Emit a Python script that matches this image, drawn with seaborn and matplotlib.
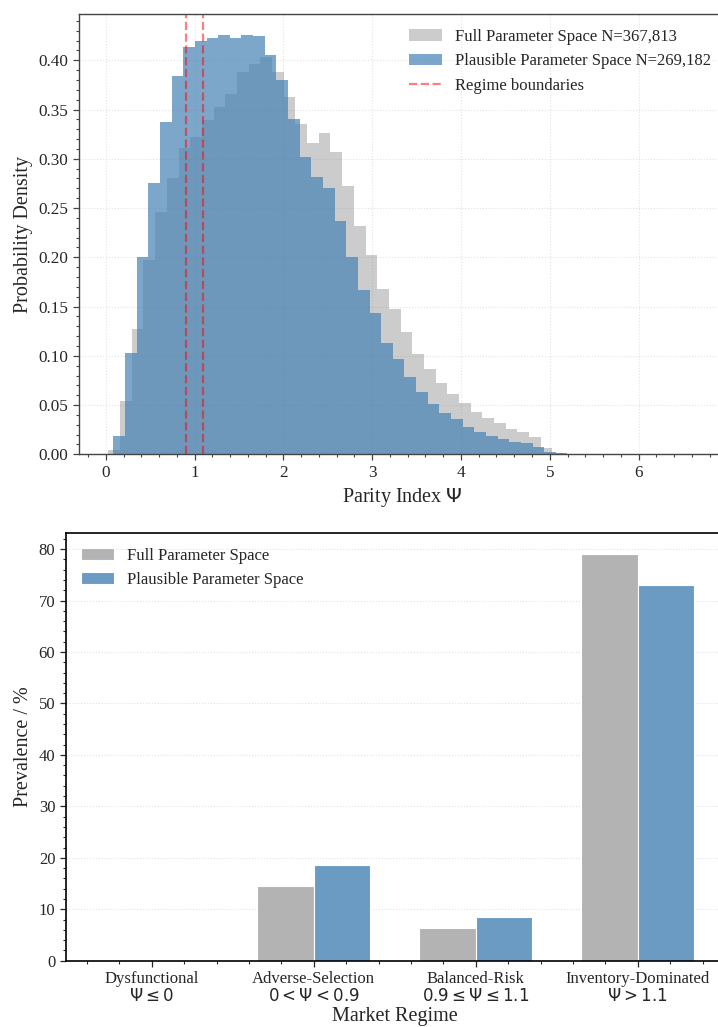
"""
Parity index distribution and regime prevalence (full vs plausible parameter space)
"""

import numpy as np
import pandas as pd
import matplotlib
matplotlib.use("Agg")
import matplotlib.pyplot as plt
from matplotlib.ticker import AutoMinorLocator, MultipleLocator
import seaborn as sns

# Histogram densities (one value per bin)
full_start = 0.030
full_width = 0.1316
full_density = [0.0044, 0.054, 0.127, 0.197, 0.246, 0.280, 0.311, 0.322, 0.339, 0.353,
                0.366, 0.3886, 0.396, 0.403, 0.388, 0.363, 0.3355, 0.3165, 0.326, 0.3073,
                0.2728, 0.2322, 0.2021, 0.1682, 0.1473, 0.1245, 0.1016, 0.0863, 0.0727, 0.0616,
                0.0518, 0.0427, 0.0372, 0.0315, 0.0257, 0.0223, 0.0172, 0.0067, 0.0016]

plaus_start = 0.086
plaus_width = 0.1311
plaus_density = [0.0186, 0.103, 0.200, 0.275, 0.337, 0.384, 0.413, 0.420, 0.4225, 0.4259,
                 0.4228, 0.4255, 0.425, 0.4055, 0.380, 0.3405, 0.3023, 0.2813, 0.2701, 0.2369,
                 0.2007, 0.1669, 0.1432, 0.1134, 0.0968, 0.0788, 0.0636, 0.0508, 0.0416, 0.0362,
                 0.0277, 0.0223, 0.0189, 0.0152, 0.0122, 0.0112, 0.0077, 0.0020, 0.0010]

regime_bounds = [0.9, 1.1]

# Regime prevalence (%)
regimes = ["Dysfunctional\n$\\Psi \\leq 0$",
           "Adverse-Selection\n$0 < \\Psi < 0.9$",
           "Balanced-Risk\n$0.9 \\leq \\Psi \\leq 1.1$",
           "Inventory-Dominated\n$\\Psi > 1.1$"]
full_prev = [0.0, 14.5, 6.4, 79.1]
plaus_prev = [0.0, 18.6, 8.4, 73.1]

full_label = "Full Parameter Space N=367,813"
plaus_label = "Plausible Parameter Space N=269,182"


def hist_frame(start, width, density):
    edges = start + width * np.arange(len(density) + 1)
    centers = edges[:-1] + width / 2
    return pd.DataFrame({"psi": centers, "density": density}), list(edges)


sns.set_style("ticks")
plt.rcParams["font.family"] = ["Liberation Serif", "DejaVu Serif"]
plt.rcParams["mathtext.fontset"] = "dejavusans"

fig = plt.figure(figsize=(7.18, 10.27), dpi=100)
ax1 = fig.add_axes([0.1096, 0.5576, 0.9022, 0.4288])
ax2 = fig.add_axes([0.0915, 0.06456, 0.9174, 0.4168])

# --- top: histogram ---
df_full, full_edges = hist_frame(full_start, full_width, full_density)
df_plaus, plaus_edges = hist_frame(plaus_start, plaus_width, plaus_density)

sns.histplot(data=df_full, x="psi", weights="density", bins=full_edges, stat="count",
             color="gray", alpha=0.4, linewidth=0, label=full_label, ax=ax1)
sns.histplot(data=df_plaus, x="psi", weights="density", bins=plaus_edges, stat="count",
             color="steelblue", alpha=0.7, linewidth=0, label=plaus_label, ax=ax1)
for i, b in enumerate(regime_bounds):
    ax1.axvline(b, color="red", alpha=0.5, ls="--", lw=1.6,
                label="Regime boundaries" if i == 0 else None)

ax1.set_xlim(-0.305, 6.99)
ax1.set_ylim(0, 0.447)
ax1.xaxis.set_major_locator(MultipleLocator(1))
ax1.yaxis.set_major_locator(MultipleLocator(0.05))
ax1.yaxis.set_major_formatter(plt.FormatStrFormatter("%.2f"))
ax1.xaxis.set_minor_locator(AutoMinorLocator(5))
ax1.yaxis.set_minor_locator(AutoMinorLocator(5))
ax1.set_xlabel("Parity Index $\\Psi$", fontsize=14.5)
ax1.set_ylabel("Probability Density", fontsize=14.5)
ax1.grid(True, which="major", ls=":", lw=0.8, color="#e2e2e2")
ax1.set_axisbelow(True)

# patches first, boundary line last
handles, labels = ax1.get_legend_handles_labels()
order = [labels.index(full_label), labels.index(plaus_label), labels.index("Regime boundaries")]
ax1.legend([handles[i] for i in order], [labels[i] for i in order],
           loc="upper right", frameon=False, fontsize=12)
for s in ax1.spines.values():
    s.set_color("#444444")
    s.set_linewidth(1.0)
ax1.tick_params(which="major", length=4, width=0.9, color="#444444", labelsize=12.3)
ax1.tick_params(which="minor", length=2.5, width=0.8, color="#444444")

# --- bottom: regime prevalence ---
df_prev = pd.DataFrame({
    "regime": regimes * 2,
    "space": ["Full Parameter Space"] * len(regimes) + ["Plausible Parameter Space"] * len(regimes),
    "prevalence": full_prev + plaus_prev,
})
sns.barplot(data=df_prev, x="regime", y="prevalence", hue="space",
            palette=["#b3b3b3", "#6b9bc3"], saturation=1, width=0.7,
            edgecolor="white", linewidth=0.8, errorbar=None, ax=ax2)

ax2.set_xlim(-0.531, 3.535)
ax2.set_ylim(0, 83.2)
ax2.yaxis.set_major_locator(MultipleLocator(10))
ax2.xaxis.set_minor_locator(AutoMinorLocator(5))
ax2.yaxis.set_minor_locator(AutoMinorLocator(5))
ax2.set_xlabel("Market Regime", fontsize=14.5, labelpad=1)
ax2.set_ylabel("Prevalence / %", fontsize=14.5)
ax2.xaxis.grid(False)
ax2.yaxis.grid(True, which="major", ls=":", lw=0.8, color="#e2e2e2")
ax2.set_axisbelow(True)
ax2.legend(loc="upper left", frameon=False, fontsize=12)
for s in ax2.spines.values():
    s.set_color("black")
    s.set_linewidth(1.2)
ax2.tick_params(which="major", length=4, width=0.9, labelsize=12)
ax2.tick_params(which="minor", length=2.5, width=0.8)
for lab in ax2.get_xticklabels():
    lab.set_linespacing(1.1)

fig.savefig("out.png", dpi=100)
